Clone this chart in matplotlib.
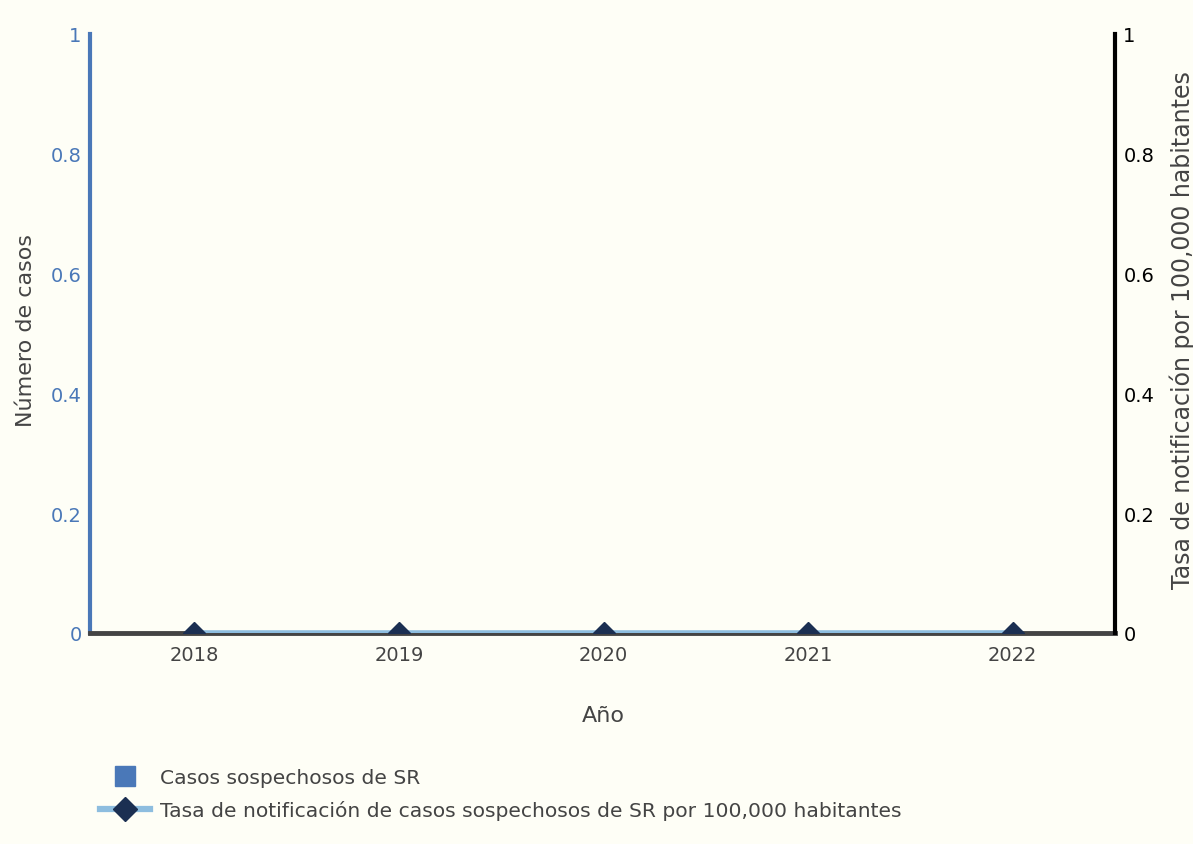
import matplotlib
matplotlib.use("Agg")
import matplotlib.pyplot as plt
from matplotlib.lines import Line2D

years = [2018, 2019, 2020, 2021, 2022]
casos = [0, 0, 0, 0, 0]
tasa = [0, 0, 0, 0, 0]
y_ticks = [0, 0.2, 0.4, 0.6, 0.8, 1]
y_labels = ["0", "0.2", "0.4", "0.6", "0.8", "1"]
series_names = ["Casos sospechosos de SR",
                "Tasa de notificación de casos sospechosos de SR por 100,000 habitantes"]

bg = "#fefef6"
blue = "#4a78b8"
light = "#8dbddf"
navy = "#1b2f52"
gray = "#444444"

plt.rcParams['font.family'] = ['DejaVu Sans']

W, H = 1193, 845
fig = plt.figure(figsize=(W / 100, H / 100), dpi=100, facecolor=bg)
ax = fig.add_axes([90 / W, 1 - 634 / H, (1115 - 90) / W, (634 - 35) / H])
ax.set_facecolor(bg)
ax2 = ax.twinx()

ax.bar(years, casos, color=blue, width=0.6)
ax2.plot(years, tasa, color=light, lw=4, marker="D", ms=11, mfc=navy, mec=navy, zorder=3)

ax.set_xlim(2017.49, 2022.5)
ax.set_ylim(0, 1)
ax2.set_ylim(0, 1)

ax.set_xticks(years)
ax.set_xticklabels([str(y) for y in years])
ax.set_yticks(y_ticks)
ax.set_yticklabels(y_labels)
ax2.set_yticks(y_ticks)
ax2.set_yticklabels(y_labels)

for a in (ax, ax2):
    a.spines['top'].set_visible(False)
ax.spines['right'].set_visible(False)
ax2.spines['left'].set_visible(False)
ax2.spines['bottom'].set_visible(False)
ax.spines['left'].set_color(blue)
ax.spines['left'].set_linewidth(3)
ax.spines['bottom'].set_color(gray)
ax.spines['bottom'].set_linewidth(3.5)
ax.spines['bottom'].set_zorder(5)
ax2.spines['right'].set_color("black")
ax2.spines['right'].set_linewidth(3)

ax.tick_params(axis='y', length=0, colors=blue, labelsize=14, pad=6)
ax.tick_params(axis='x', length=0, colors=gray, labelsize=14, pad=9)
ax2.tick_params(axis='y', length=0, colors="black", labelsize=14, pad=6)

fig.text(603 / W, 1 - 716 / H, "Año", fontsize=16, color=gray, ha='center', va='center')
fig.text(26 / W, 1 - 331 / H, "Número de casos", fontsize=16, color=gray,
         rotation=90, ha='center', va='center')
fig.text(1182 / W, 1 - 330 / H, "Tasa de notificación por 100,000 habitantes", fontsize=17,
         color=gray, rotation=90, ha='center', va='center')

handles = [
    Line2D([0], [0], color="none", marker="s", ms=14.5, mfc=blue, mec=blue),
    Line2D([0], [0], color=light, lw=4.5, marker="D", ms=12, mfc=navy, mec=navy),
]
fig.legend(handles, series_names, loc="upper left", bbox_to_anchor=(100 / W, 1 - 769 / H),
           frameon=False, fontsize=14.6, labelcolor=gray, handlelength=2.46,
           handletextpad=0.49, labelspacing=0.66, borderpad=0, borderaxespad=0)

fig.savefig("out.png", dpi=100, facecolor=bg)
